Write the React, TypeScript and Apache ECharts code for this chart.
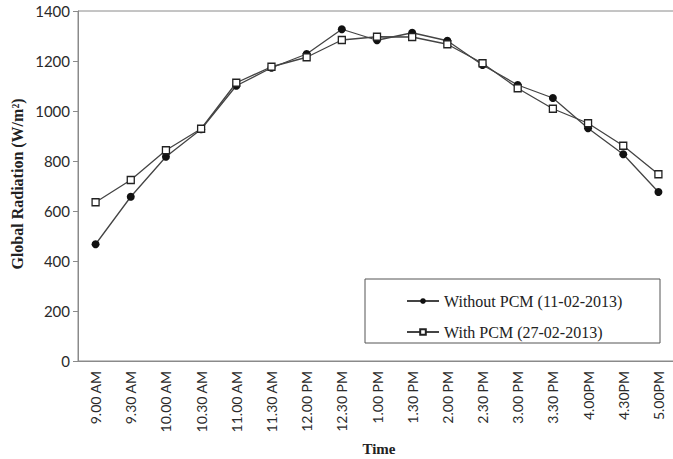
import React, { useEffect, useRef } from "react";
import * as echarts from "echarts";

const categories = [
  "9.00 AM", "9.30 AM", "10.00 AM", "10.30 AM", "11.00 AM", "11.30 AM",
  "12.00 PM", "12.30 PM", "1.00 PM", "1.30 PM", "2.00 PM", "2.30 PM",
  "3.00 PM", "3.30 PM", "4.00PM", "4.30PM", "5.00PM",
];
const withoutPCM = [467, 657, 817, 927, 1101, 1173, 1228, 1327, 1283, 1313, 1281, 1184, 1104, 1052, 931, 827, 676];
const withPCM = [635, 724, 843, 929, 1113, 1177, 1215, 1284, 1297, 1296, 1267, 1191, 1091, 1009, 951, 861, 747];
const seriesNames = ["Without PCM (11-02-2013)", "With PCM (27-02-2013)"];

export default function App() {
  const ref = useRef<HTMLDivElement>(null);
  useEffect(() => {
    if (!ref.current) return;
    const chart = echarts.init(ref.current, undefined, { renderer: "svg" });
    const serif = "'Liberation Serif', 'DejaVu Serif', serif";
    const sans = "Lato, 'Open Sans', sans-serif";
    chart.setOption({
      animation: false,
      backgroundColor: "#fff",
      grid: {
        left: 78,
        top: 11,
        width: 598,
        height: 350,
        outerBoundsMode: "none",
        containLabel: false,
        show: true,
        borderColor: "#8a8a8a",
        borderWidth: 1,
      },
      graphic: [
        {
          type: "rect",
          shape: { x: 365, y: 279, width: 295, height: 64 },
          style: { fill: "#fff", stroke: "#555", lineWidth: 1 },
          z: 10,
        },
        {
          type: "text",
          x: 17,
          y: 184,
          rotation: Math.PI / 2,
          style: {
            text: "Global Radiation (W/m\u00B2)",
            font: `bold 16px ${serif}`,
            fill: "#222",
            align: "center",
            verticalAlign: "middle",
          },
        },
        {
          type: "text",
          x: 379,
          y: 449,
          style: {
            text: "Time",
            font: `bold 15px ${serif}`,
            fill: "#222",
            align: "center",
            verticalAlign: "middle",
          },
        },
      ],
      legend: {
        left: 401,
        top: 288,
        orient: "vertical",
        itemWidth: 32,
        itemHeight: 7,
        itemGap: 15,
        z: 20,
        textStyle: { fontFamily: serif, fontSize: 16, color: "#222" },
        data: seriesNames,
      },
      xAxis: {
        type: "category",
        data: categories,
        boundaryGap: true,
        axisLine: { lineStyle: { color: "#8a8a8a", width: 1 } },
        axisTick: { inside: true, length: 6, lineStyle: { color: "#8a8a8a" } },
        axisLabel: {
          rotate: 90,
          margin: 10,
          fontFamily: sans,
          fontSize: 14,
          color: "#2a2a2a",
          interval: 0,
        },
        splitLine: { show: false },
      },
      yAxis: {
        type: "value",
        min: 0,
        max: 1400,
        interval: 200,
        axisLine: { show: true, lineStyle: { color: "#8a8a8a", width: 1 } },
        axisTick: { show: true, length: 5, lineStyle: { color: "#8a8a8a" } },
        axisLabel: {
          margin: 8,
          fontFamily: sans,
          fontSize: 15,
          color: "#2a2a2a",
          formatter: (v: number) => String(v),
        },
        splitLine: { show: false },
      },
      series: [
        {
          name: seriesNames[0],
          type: "line",
          data: withoutPCM,
          symbol: "circle",
          symbolSize: 8,
          lineStyle: { color: "#444", width: 1.3 },
          itemStyle: { color: "#111", borderColor: "#111", borderWidth: 0 },
          z: 3,
        },
        {
          name: seriesNames[1],
          type: "line",
          data: withPCM,
          symbol: "rect",
          symbolSize: 7,
          lineStyle: { color: "#444", width: 1.3 },
          itemStyle: { color: "#fff", borderColor: "#222", borderWidth: 1.3 },
          z: 4,
        },
      ],
    });
    return () => chart.dispose();
  }, []);
  return (
    <div
      ref={ref}
      style={{ position: "absolute", left: 0, top: 0, width: 673, height: 459 }}
    />
  );
}
